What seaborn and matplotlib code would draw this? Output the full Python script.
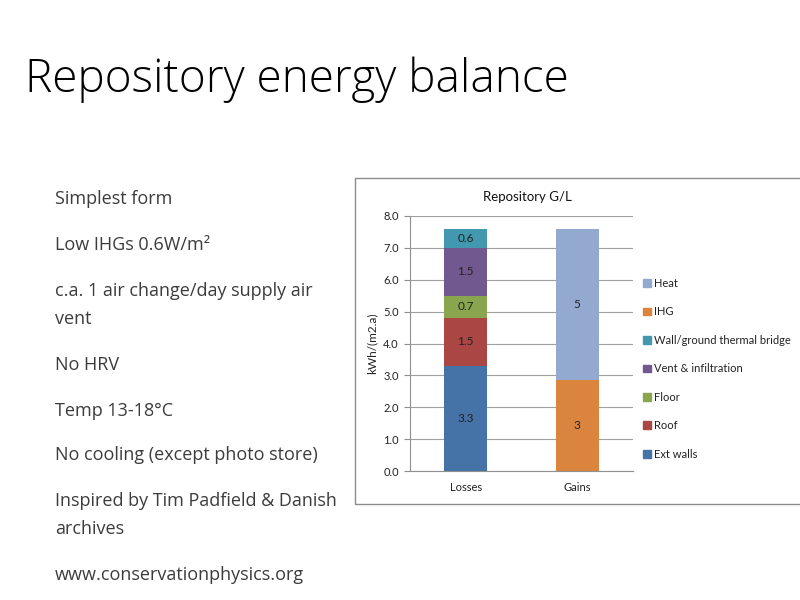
import matplotlib
matplotlib.use("Agg")
import matplotlib.pyplot as plt
import matplotlib.patches as mpatches
import seaborn as sns

# ---- data ----
categories = ["Losses", "Gains"]
loss_components = ["Ext walls", "Roof", "Floor", "Vent & infiltration", "Wall/ground thermal bridge"]
loss_values = [3.3, 1.5, 0.7, 1.5, 0.6]
gain_components = ["IHG", "Heat"]
gain_values = [2.85, 4.75]
gain_labels = ["3", "5"]
loss_labels = ["3.3", "1.5", "0.7", "1.5", "0.6"]
legend_order = ["Heat", "IHG", "Wall/ground thermal bridge", "Vent & infiltration", "Floor", "Roof", "Ext walls"]
y_ticks = [0, 1, 2, 3, 4, 5, 6, 7, 8]
colors = {
    "Ext walls": "#4572A7",
    "Roof": "#AA4643",
    "Floor": "#89A54E",
    "Vent & infiltration": "#71588F",
    "Wall/ground thermal bridge": "#4198AF",
    "IHG": "#DB843D",
    "Heat": "#93A9CF",
}
slide_title = "Repository energy balance"
bullets = [
    ("Simplest form", 198),
    ("Low IHGs 0.6W/m²", 243),
    ("c.a. 1 air change/day supply air", 289),
    ("vent", 318),
    ("No HRV", 363),
    ("Temp 13-18°C", 409),
    ("No cooling (except photo store)", 454),
    ("Inspired by Tim Padfield & Danish", 499),
    ("archives", 528),
    ("www.conservationphysics.org", 574),
]

sns.set_theme(style="white")
plt.rcParams["font.family"] = ["Lato", "DejaVu Sans"]

W, H = 800, 600
fig = plt.figure(figsize=(8, 6), dpi=100)
fig.patch.set_facecolor("white")

def fx(px):
    return px / W

def fy(py):
    return 1 - py / H

# slide title
fig.text(fx(25), fy(80), slide_title, fontsize=33, fontweight="light",
         family=["Open Sans", "DejaVu Sans"], color="#000000", va="center", ha="left")

# bullets
for txt, y in bullets:
    fig.text(fx(55), fy(y + 1.5), txt, fontsize=13, fontweight="normal",
             family=["Open Sans", "DejaVu Sans"], color="#3c3c3c", va="center", ha="left")

# chart frame
frame = mpatches.Rectangle((fx(355), fy(504)), fx(800) - fx(355) + 0.01, fy(178) - fy(504),
                           transform=fig.transFigure, fill=False, edgecolor="#8c8c8c",
                           linewidth=1.0, clip_on=False)
fig.add_artist(frame)

ax = fig.add_axes([fx(410), fy(471), fx(633) - fx(410), fy(216) - fy(471)])
ax.set_facecolor("white")

bar_w = 0.39
base = 0.0
for comp, val, lab in zip(loss_components, loss_values, loss_labels):
    sns.barplot(x=[categories[0]], y=[val], order=categories, color=colors[comp],
                bottom=base, width=bar_w, saturation=1, ax=ax, linewidth=0)
    cont = ax.containers[-1]
    ax.bar_label(cont, labels=[lab], label_type="center", fontsize=8.5, color="#222222")
    base += val
base = 0.0
for comp, val, lab in zip(gain_components, gain_values, gain_labels):
    sns.barplot(x=[categories[1]], y=[val], order=categories, color=colors[comp],
                bottom=base, width=bar_w, saturation=1, ax=ax, linewidth=0)
    cont = ax.containers[-1]
    ax.bar_label(cont, labels=[lab], label_type="center", fontsize=8.5, color="#222222")
    base += val

ax.set_xlim(-0.5, 1.5)
ax.set_ylim(0, 8)
ax.set_yticks(y_ticks)
ax.set_yticklabels([f"{v:.1f}" for v in y_ticks], fontsize=8, color="#222222")
ax.yaxis.grid(True, color="#a0a0a0", linewidth=0.8)
ax.set_axisbelow(True)
ax.set_xticks([0, 1])
ax.set_xticklabels(categories, fontsize=8, color="#222222")
ax.set_xticks([-0.5, 0.5, 1.5], minor=True)
ax.tick_params(axis="x", which="major", length=0, pad=8)
ax.tick_params(axis="x", which="minor", length=4, width=0.8, color="#909090", direction="out")
ax.tick_params(axis="y", which="major", length=4, width=0.8, color="#909090", direction="out", pad=4, left=True)
for s in ["top", "right"]:
    ax.spines[s].set_visible(False)
for s in ["left", "bottom"]:
    ax.spines[s].set_color("#909090")
    ax.spines[s].set_linewidth(0.8)
ax.set_xlabel("")
ax.set_ylabel("kWh/(m2.a)", fontsize=8.5, color="#222222", labelpad=4)

fig.text(fx(527), fy(197), "Repository G/L", fontsize=9.5, color="#111111",
         ha="center", va="center")

handles = [mpatches.Patch(color=colors[c], label=c) for c in legend_order]
leg = fig.legend(handles=handles, loc="upper left", bbox_to_anchor=(fx(643), fy(278)),
                 frameon=False, fontsize=8, handlelength=0.7, handleheight=0.7,
                 handletextpad=0.3, labelspacing=1.57, borderaxespad=0, borderpad=0)
for t in leg.get_texts():
    t.set_color("#222222")

fig.savefig("out.png", dpi=100, facecolor="white")
